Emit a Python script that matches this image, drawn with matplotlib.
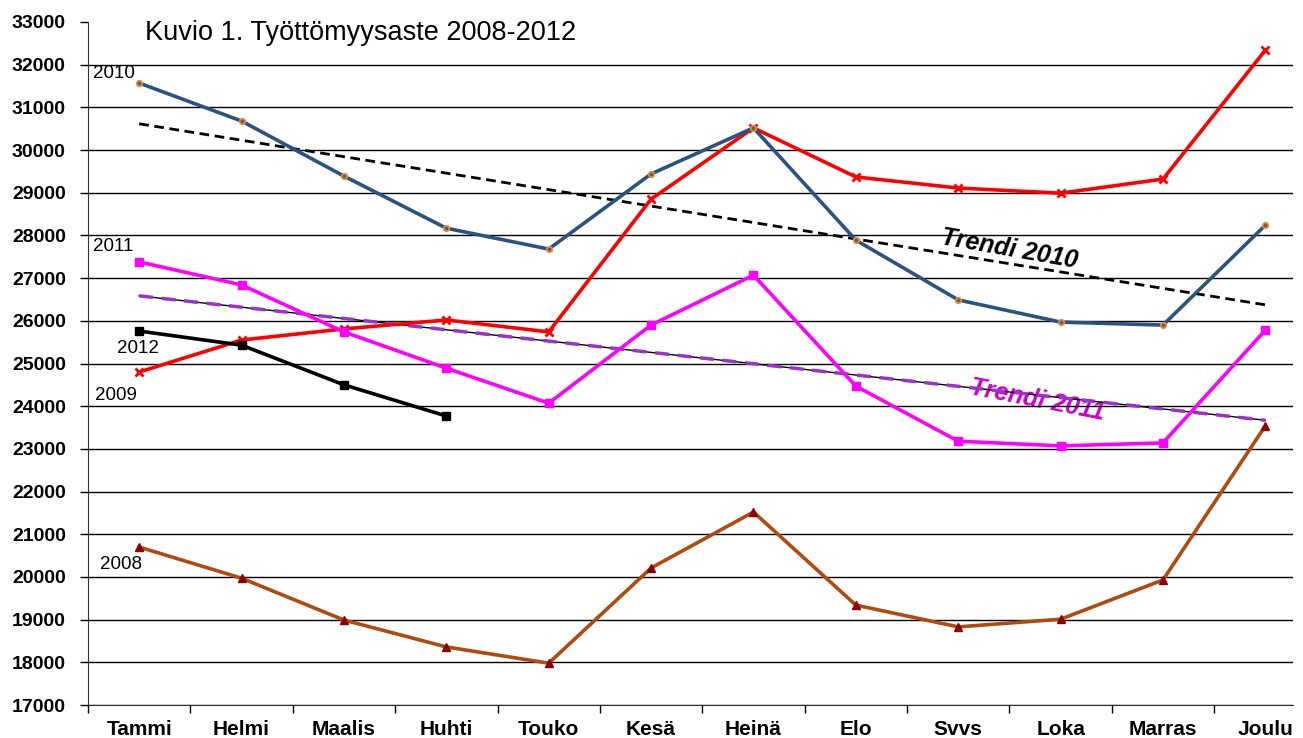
import matplotlib
matplotlib.use("Agg")
import matplotlib.pyplot as plt
import numpy as np

# --------------------  Data ----------------------- #
months = ['Tammi', 'Helmi', 'Maalis', 'Huhti', 'Touko', 'Kesä',
          'Heinä', 'Elo', 'Svvs', 'Loka', 'Marras', 'Joulu']
y2008 = [20700, 19970, 18990, 18360, 17980, 20210, 21520, 19340, 18830, 19010, 19930, 23540]
y2009 = [24800, 25550, 25810, 26020, 25740, 28850, 30520, 29370, 29110, 28990, 29320, 32340]
y2010 = [31570, 30680, 29390, 28170, 27680, 29440, 30520, 27890, 26490, 25970, 25900, 28240]
y2011 = [27380, 26840, 25740, 24890, 24070, 25900, 27070, 24470, 23180, 23070, 23140, 25780]
y2012 = [25760, 25430, 24500, 23770]

plt.rcParams['font.family'] = ['Liberation Sans', 'DejaVu Sans']

# --------------------  Plot ----------------------- #
fig = plt.figure(figsize=(13.03, 7.38), dpi=100)
ax = fig.add_axes([88 / 1303, 33 / 738, (1293 - 88) / 1303, (705 - 22) / 738])

x = np.arange(len(months))

# trend lines (linear fits)
k10, b10 = np.polyfit(x, y2010, 1)
k11, b11 = np.polyfit(x, y2011, 1)
ax.plot(x, k10 * x + b10, color='black', lw=2, ls=(0, (3.5, 2)), zorder=2)
ax.plot(x, k11 * x + b11, color='black', lw=1, zorder=2)
ax.plot(x, k11 * x + b11, color='#9933CC', lw=2.5, ls=(0, (4, 2.5)), zorder=2)

ax.plot(x, y2008, color='#B04A0E', lw=2.6, marker='^', ms=6,
        mfc='#8B0000', mec='#8B0000', zorder=3)
ax.plot(x, y2009, color='#FF0000', lw=2.6, marker='x', ms=6, mew=2,
        mec='#FF0000', zorder=3)
ax.plot(x, y2010, color='#2B5380', lw=2.6, marker='o', ms=4,
        mfc='#7A5A40', mec='#E0904A', mew=1.2, zorder=3)
ax.plot(x, y2011, color='#FF00FF', lw=2.6, marker='s', ms=6,
        mfc='#FF00FF', mec='#FF00FF', zorder=3)
ax.plot(x[:len(y2012)], y2012, color='black', lw=2.6, marker='s', ms=6, zorder=4)

# year labels
ax.text(-0.45, 31800, '2010', fontsize=13.5, va='center', ha='left')
ax.text(-0.45, 27750, '2011', fontsize=13.5, va='center', ha='left')
ax.text(-0.22, 25360, '2012', fontsize=13.5, va='center', ha='left')
ax.text(-0.43, 24260, '2009', fontsize=13.5, va='center', ha='left')
ax.text(-0.38, 20280, '2008', fontsize=13.5, va='center', ha='left')

ax.text(8.5, 27680, 'Trendi 2010', fontsize=18, fontweight='bold', style='italic',
        rotation=-10, ha='center', va='center', zorder=5)
ax.text(8.77, 24130, 'Trendi 2011', fontsize=18, fontweight='bold', style='italic',
        color='#CC00CC', rotation=-11, ha='center', va='center', zorder=1)

fig.text(145 / 1303, 1 - 33 / 738, 'Kuvio 1. Työttömyysaste 2008-2012',
         fontsize=19.5, va='center', ha='left')

# axes styling
ax.set_yticks(np.arange(17000, 33001, 1000))
ax.set_xticks(x)
ax.set_xticklabels(months, fontsize=15, fontweight='bold')
ax.set_xticks(np.arange(-0.5, 11.6, 1), minor=True)
ax.set_ylim(17000, 33000)
ax.set_xlim(-0.5, 11.27)
ax.tick_params(axis='x', which='major', length=0, pad=11)
ax.tick_params(axis='x', which='minor', length=6, direction='out', width=1)
ax.tick_params(axis='y', length=6, direction='out', labelsize=14, width=1, pad=10)
for lbl in ax.get_yticklabels():
    lbl.set_fontweight('bold')
ax.grid(axis='y', color='black', lw=1, zorder=0)
ax.get_ygridlines()[-1].set_visible(False)
ax.spines['top'].set_visible(False)
ax.spines['right'].set_visible(False)
ax.spines['left'].set_color('#333333')
ax.spines['bottom'].set_color('#333333')

fig.savefig('out.png', dpi=100)
